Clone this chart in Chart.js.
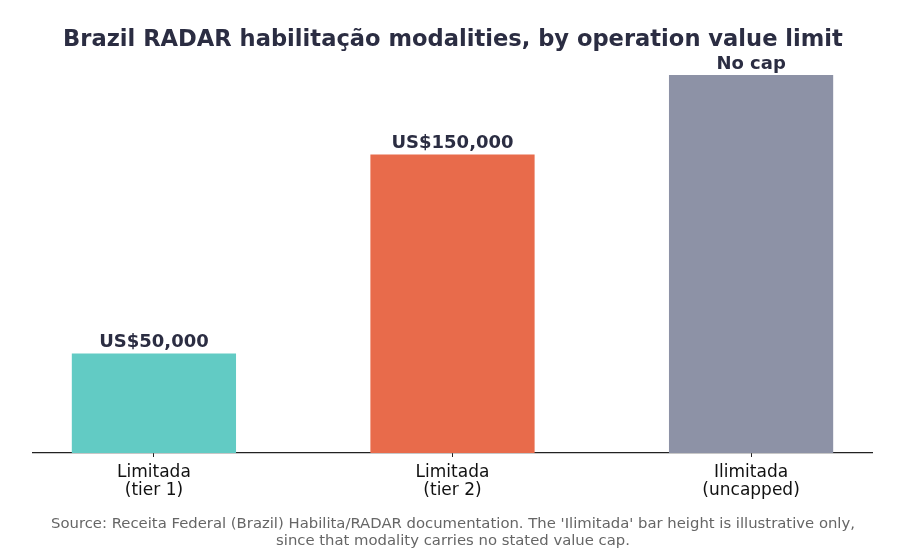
<!DOCTYPE html>
<html>
<head>
<meta charset="utf-8">
<script src="https://cdn.jsdelivr.net/npm/chart.js@4"></script>
<style>
    html, body { margin: 0; padding: 0; background: #ffffff; }
    #wrap { width: 899px; height: 559px; }
</style>
</head>
<body>
<div id="wrap"><canvas id="radarChart" width="899" height="559"></canvas></div>
<script>
// data
const categories = [["Limitada", "(tier 1)"], ["Limitada", "(tier 2)"], ["Ilimitada", "(uncapped)"]];
const limits = [50000, 150000, 190000]; // last bar is illustrative only
const valueLabels = ["US$50,000", "US$150,000", "No cap"];
const barColors = ["#62cbc4", "#e86b4b", "#8d92a6"];

const titleText = "Brazil RADAR habilitação modalities, by operation value limit";
const sourceLines = [
    "Source: Receita Federal (Brazil) Habilita/RADAR documentation. The 'Ilimitada' bar height is illustrative only,",
    "since that modality carries no stated value cap.",
];

const FONT = "'DejaVu Sans', 'Open Sans', sans-serif";
const INK = "#2b2d42";

Chart.defaults.font.family = FONT;
Chart.defaults.color = "#111111";

// pick a font size so the text spans about the wanted width
function fitFont(ctx, text, weight, width, maxSize) {
    ctx.font = weight + " 10px " + FONT;
    const size = Math.min(maxSize, (10 * width) / ctx.measureText(text).width);
    ctx.font = weight + " " + size.toFixed(2) + "px " + FONT;
}

// title, source note and value labels drawn on the canvas
const textPlugin = {
    id: "textPlugin",
    afterDraw(chart) {
        const ctx = chart.ctx;
        const cx = 453;
        ctx.save();
        ctx.textAlign = "center";
        ctx.textBaseline = "middle";

        ctx.fillStyle = INK;
        fitFont(ctx, titleText, "bold", 780, 24);
        ctx.fillText(titleText, cx, 40);

        ctx.fillStyle = "#666666";
        fitFont(ctx, sourceLines[0], "normal", 804, 16);
        sourceLines.forEach((line, i) => ctx.fillText(line, cx, 524 + i * 17));

        ctx.fillStyle = INK;
        ctx.font = "bold 18px " + FONT;
        ctx.textBaseline = "bottom";
        chart.getDatasetMeta(0).data.forEach((bar, i) => {
            ctx.fillText(valueLabels[i], bar.x, bar.y - 2);
        });
        ctx.restore();
    },
};

const ctx = document.getElementById("radarChart").getContext("2d");
new Chart(ctx, {
    type: "bar",
    data: {
        datasets: [
            {
                data: limits.map((v, i) => ({ x: i, y: v })),
                backgroundColor: barColors,
                borderWidth: 0,
                barPercentage: 0.55,
                categoryPercentage: 1,
            },
        ],
    },
    options: {
        responsive: false,
        animation: false,
        layout: {
            padding: { top: 55, left: 33, right: 27, bottom: 0 },
        },
        plugins: {
            legend: { display: false },
            tooltip: { enabled: false },
        },
        scales: {
            x: {
                type: "linear",
                offset: false,
                min: -0.405,
                max: 2.405,
                afterBuildTicks: (scale) => {
                    scale.ticks = categories.map((c, i) => ({ value: i }));
                },
                afterFit: (scale) => {
                    scale.height = 106;
                },
                ticks: {
                    callback: (value) => categories[value],
                    font: { size: 17, lineHeight: 1.05 },
                    color: "#111111",
                    padding: 7,
                    maxRotation: 0,
                    autoSkip: false,
                },
                grid: {
                    offset: false,
                    drawOnChartArea: false,
                    drawTicks: true,
                    tickLength: 4,
                    color: "#222222",
                },
                border: {
                    color: "#222222",
                    width: 1.2,
                },
            },
            y: {
                display: false,
                min: 0,
                max: 200000,
            },
        },
    },
    plugins: [textPlugin],
});
</script>
</body>
</html>
